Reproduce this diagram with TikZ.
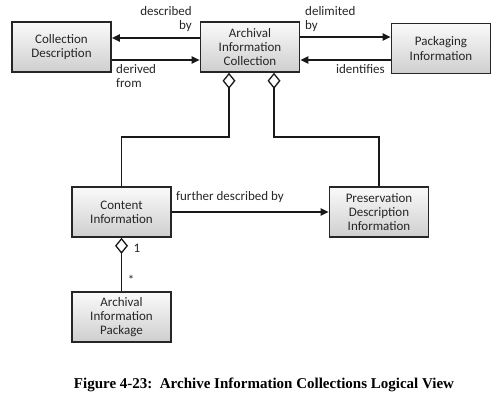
\documentclass[tikz,border=0pt]{standalone}
\usepackage{fontspec}
\setmainfont{Carlito}
\newfontfamily\capfont{Liberation Serif}
\usetikzlibrary{arrows.meta}
\begin{document}
\begin{tikzpicture}[x=1pt,y=-1pt,
  box/.style={draw=black!85, line width=1.6pt, top color=gray!4, bottom color=gray!38,
    minimum width=99pt, minimum height=50pt, inner sep=0pt, align=center,
    font=\fontsize{13}{14.2}\selectfont, text=black!85},
  lbl/.style={font=\fontsize{13}{14.5}\selectfont, inner sep=0pt, text=black!85},
  arr/.style={line width=1.8pt, draw=black!90, -{Triangle[length=8pt,width=7pt]}},
  agg/.style={line width=1.8pt, draw=black!90, {Diamond[open,length=16pt,width=13pt,line width=1.3pt]}-}]
\useasboundingbox (0,0) rectangle (500,402);
\node[box] (cd) at (61.5,47) {Collection\\Description};
\node[box] (aic) at (250,47) {Archival\\Information\\Collection};
\node[box] (pi) at (441,48.5) {Packaging\\Information};
\node[box] (ci) at (121.5,212) {Content\\Information};
\node[box] (pdi) at (379,212) {Preservation\\Description\\Information};
\node[box] (aip) at (121.5,317) {Archival\\Information\\Package};
\draw[arr] (aic.west |- 0,38) -- (cd.east |- 0,38);
\draw[arr] (cd.east |- 0,60) -- (aic.west |- 0,60);
\draw[arr] (aic.east |- 0,37) -- (pi.west |- 0,37);
\draw[arr] (pi.west |- 0,60) -- (aic.east |- 0,60);
\draw[arr] (ci.east) -- (pdi.west);
\draw[agg] (aic.south -| 229,0) -- (229,137) -| (ci.north);
\draw[agg] (aic.south -| 274,0) -- (274,137) -| (pdi.north);
\draw[agg] (ci.south) -- (aip.north);
\node[lbl, align=right, anchor=north east] (l1) at (192,6) {described\\by};
\node[lbl, align=left, anchor=north west] (l2) at (116,64) {derived\\from};
\node[lbl, align=left, anchor=north west] (l3) at (305,6) {delimited\\by};
\node[lbl, anchor=north east] (l4) at (385,64) {identifies};
\node[lbl, anchor=west] (l5) at (176,197) {further described by};
\node[lbl] (m1) at (137,248) {1};
\node[lbl] (m2) at (131,280) {*};
\node[font=\capfont\bfseries\fontsize{15}{17}\selectfont, inner sep=0pt] (cap) at (264,385)
  {Figure 4-23:\ \ Archive Information Collections Logical View};
\end{tikzpicture}
\end{document}
